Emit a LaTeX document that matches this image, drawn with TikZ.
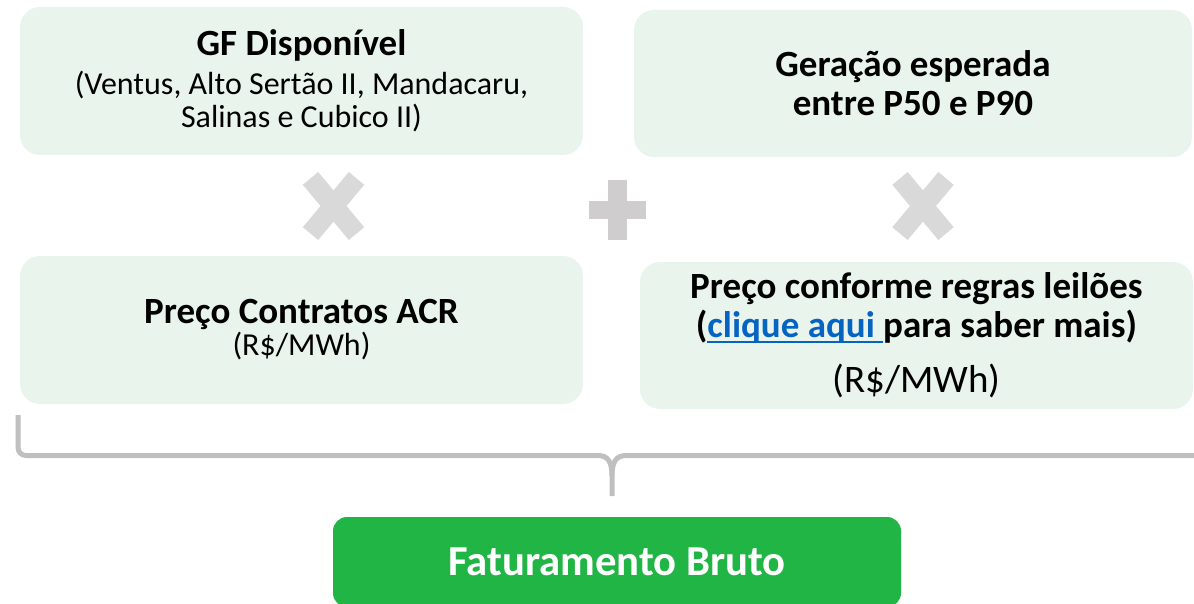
\documentclass[tikz,border=0pt]{standalone}
\usepackage{fontspec}
\setmainfont{Carlito}
\usetikzlibrary{positioning}

\definecolor{verdeclaro}{HTML}{E9F5EC}
\definecolor{verde}{HTML}{21B546}
\definecolor{cinzax}{HTML}{D9D9D9}
\definecolor{cinzamais}{HTML}{CFCDCD}
\definecolor{cinzachave}{HTML}{BFBFBF}
\definecolor{azullink}{HTML}{0563C1}

\newcommand{\subtxt}{\mdseries\fontsize{32}{33}\selectfont}
\newcommand{\sublinhado}[1]{\setbox0\hbox{#1}%
  \rlap{\raisebox{-5pt}{\color{azullink}\rule{\wd0}{2.2pt}}}\box0}

\tikzset{
  caixa/.style={fill=verdeclaro, rounded corners=20pt, inner sep=0pt,
    minimum width=563pt, minimum height=148pt, align=center,
    font=\bfseries\fontsize{37}{39}\selectfont},
  marca/.style={cinzax, line width=20pt, line cap=butt},
  total/.style={fill=verde, rounded corners=14pt, inner sep=0pt,
    minimum width=568pt, minimum height=90pt, text=white,
    font=\bfseries\fontsize{42.7}{44}\selectfont}
}

\begin{document}
\begin{tikzpicture}[x=1pt,y=-1pt]

  \useasboundingbox (0,0) rectangle (1194,604);
  \clip (0,0) rectangle (1194,604);

  % boxes of the two terms
  \node[caixa] (gf) at (301.5,81) {GF Disponível\\
    {\subtxt (Ventus, Alto Sertão II, Mandacaru,}\\[-6pt]
    {\subtxt Salinas e Cubico II)}};
  \node[caixa, minimum width=558pt, minimum height=147pt] (geracao) at (913,83.5)
    {Geração esperada\\entre P50 e P90};
  \node[caixa] (acr) at (301.5,330) {Preço Contratos ACR\\[-7pt]
    {\subtxt (R\$/MWh)}};
  \node[caixa, minimum width=553pt, minimum height=147pt] (leilao) at (916.5,335.5)
    {Preço conforme regras leilões\\
    (\sublinhado{\textcolor{azullink}{clique aqui\ }}para saber mais)\\[16pt]
    {\mdseries\fontsize{39}{40}\selectfont (R\$/MWh)}};

  % times signs
  \foreach \xx in {333.5,923}
  {
       \draw[marca] ({\xx-23},178.4) -- ({\xx+23},233.6);
       \draw[marca] ({\xx+23},178.4) -- ({\xx-23},233.6);
  }

  % plus sign
  \fill[cinzamais] (608,180) rectangle (627,240);
  \fill[cinzamais] (589,201) rectangle (646,219);

  % brace
  \draw[cinzachave, line width=5pt, rounded corners=8pt]
       (18,415) -- (18,455.5) -- (598,455.5);
  \draw[cinzachave, line width=5pt]
       (598,455.5) .. controls (608,455.5) and (612,462) .. (612,476) -- (612,496);
  \draw[cinzachave, line width=5pt]
       (1200,455.5) -- (626,455.5) .. controls (616,455.5) and (612,462) .. (612,476);

  % result
  \node[total] (fat) at (617,562) {Faturamento Bruto};

\end{tikzpicture}
\end{document}
